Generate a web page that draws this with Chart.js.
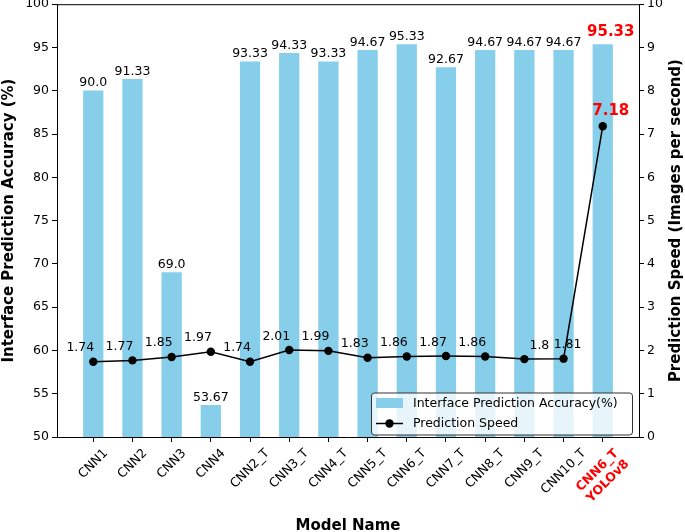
<!DOCTYPE html>
<html>
<head>
<meta charset="utf-8">
<script src="https://cdn.jsdelivr.net/npm/chart.js@4.4.0/dist/chart.umd.min.js"></script>
<style>
    html, body { margin: 0; padding: 0; background: #fff; }
    #wrap { width: 685px; height: 532px; }
</style>
</head>
<body>
<div id="wrap"><canvas id="chart" width="685" height="532"></canvas></div>
<script>
// ---- data ----
const models = ['CNN1', 'CNN2', 'CNN3', 'CNN4', 'CNN2_T', 'CNN3_T', 'CNN4_T', 'CNN5_T',
    'CNN6_T', 'CNN7_T', 'CNN8_T', 'CNN9_T', 'CNN10_T', ['CNN6_T', 'YOLOv8']];
const accuracy = [90.0, 91.33, 69.0, 53.67, 93.33, 94.33, 93.33, 94.67, 95.33, 92.67, 94.67, 94.67, 94.67, 95.33];
const speed = [1.74, 1.77, 1.85, 1.97, 1.74, 2.01, 1.99, 1.83, 1.86, 1.87, 1.86, 1.8, 1.81, 7.18];
const accTicks = [50, 55, 60, 65, 70, 75, 80, 85, 90, 95, 100];
const speedTicks = [0, 1, 2, 3, 4, 5, 6, 7, 8, 9, 10];

const FONT = '"DejaVu Sans", sans-serif';
const BAR_COLOR = '#87CEEB';
const HIGHLIGHT = 13; // the YOLOv8 entry

// python-style str(float)
const fmt = v => Number.isInteger(v) ? v.toFixed(1) : String(v);

function fixBox(size, key) {
    return s => {
        s[key] = size;
        s.paddingTop = s.paddingBottom = s.paddingLeft = s.paddingRight = 0;
    };
}

const axisGrid = { display: true, offset: false, drawOnChartArea: false, drawTicks: true, tickLength: 5, color: '#000', lineWidth: 1 };

// labels, titles, frame and legend drawn on top
const overlay = {
    id: 'overlay',
    afterDatasetsDraw(chart) {
        const c = chart.ctx;
        c.save();

        // value labels on bars
        const bars = chart.getDatasetMeta(1).data;
        bars.forEach((el, i) => {
            c.textAlign = 'center';
            c.textBaseline = 'alphabetic';
            if (i === HIGHLIGHT) {
                c.font = 'bold 15px ' + FONT;
                c.fillStyle = '#ff0000';
                c.fillText(fmt(accuracy[i]), el.x + 8, el.y - 9);
            } else {
                c.font = '12.5px ' + FONT;
                c.fillStyle = '#000';
                c.fillText(fmt(accuracy[i]), el.x, el.y - 4.5);
            }
        });

        // speed labels (last two nudged right like the original)
        const pts = chart.getDatasetMeta(0).data;
        pts.forEach((el, i) => {
            c.textBaseline = 'alphabetic';
            if (i === HIGHLIGHT) {
                c.font = 'bold 15px ' + FONT;
                c.fillStyle = '#ff0000';
                c.textAlign = 'center';
                c.fillText(fmt(speed[i]), el.x + 8, el.y - 11);
                return;
            }
            c.font = '12.5px ' + FONT;
            c.fillStyle = '#000';
            if (i === 11) {
                c.textAlign = 'center';
                c.fillText(fmt(speed[i]), el.x + 15, el.y - 10.5);
            } else if (i === 12) {
                c.textAlign = 'center';
                c.fillText(fmt(speed[i]), el.x + 4, el.y - 10.5);
            } else {
                c.textAlign = 'right';
                c.fillText(fmt(speed[i]), el.x + 1, el.y - 10.5);
            }
        });
        c.restore();
    },
    afterDraw(chart) {
        const c = chart.ctx;
        const area = chart.chartArea;
        const xs = chart.scales.x;
        c.save();

        // top spine
        c.strokeStyle = '#000';
        c.lineWidth = 1;
        c.beginPath();
        c.moveTo(area.left, area.top + 0.5);
        c.lineTo(area.right, area.top + 0.5);
        c.stroke();

        // rotated x tick labels, bbox centred under the tick
        models.forEach((m, i) => {
            const lines = Array.isArray(m) ? m : [m];
            const fs = 12.5;
            c.font = (i === HIGHLIGHT ? 'bold ' : '') + fs + 'px ' + FONT;
            c.fillStyle = i === HIGHLIGHT ? '#ff0000' : '#000';
            const w = Math.max(...lines.map(l => c.measureText(l).width));
            const h = fs * (1 + 1.2 * (lines.length - 1));
            const side = (w + h) / Math.SQRT2;
            const x = xs.getPixelForValue(i);
            const y = area.bottom + 10 + side / 2;
            c.save();
            c.translate(x, y);
            c.rotate(-Math.PI / 4);
            c.textAlign = 'center';
            c.textBaseline = 'middle';
            lines.forEach((l, j) => {
                c.fillText(l, 0, (j - (lines.length - 1) / 2) * fs * 1.2);
            });
            c.restore();
        });

        // axis titles
        c.fillStyle = '#000';
        c.font = 'bold 15px ' + FONT;
        c.textAlign = 'center';
        c.textBaseline = 'middle';
        c.fillText('Model Name', (area.left + area.right) / 2, 526);
        const midY = (area.top + area.bottom) / 2;
        c.save();
        c.translate(9, midY);
        c.rotate(-Math.PI / 2);
        c.fillText('Interface Prediction Accuracy (%)', 0, 0);
        c.restore();
        c.save();
        c.translate(676, midY);
        c.rotate(-Math.PI / 2);
        c.fillText('Prediction Speed (Images per second)', 0, 0);
        c.restore();

        // legend, lower right inside the plot
        const lw = 261, lh = 42;
        const lx = area.right - 7 - lw, ly = area.bottom - 2.5 - lh;
        c.beginPath();
        c.roundRect(lx + 0.5, ly + 0.5, lw, lh, 3);
        c.fillStyle = 'rgba(255,255,255,0.8)';
        c.fill();
        c.strokeStyle = '#333';
        c.lineWidth = 1;
        c.stroke();

        c.fillStyle = BAR_COLOR;
        c.fillRect(lx + 5, ly + 5.5, 27, 10);
        c.strokeStyle = '#000';
        c.lineWidth = 1.5;
        c.beginPath();
        c.moveTo(lx + 5, ly + 31);
        c.lineTo(lx + 32, ly + 31);
        c.stroke();
        c.fillStyle = '#000';
        c.beginPath();
        c.arc(lx + 18.5, ly + 31, 4.2, 0, Math.PI * 2);
        c.fill();

        c.font = '12.5px ' + FONT;
        c.textAlign = 'left';
        c.textBaseline = 'middle';
        c.fillText('Interface Prediction Accuracy(%)', lx + 42, ly + 11);
        c.fillText('Prediction Speed', lx + 42, ly + 31);
        c.restore();
    }
};

new Chart(document.getElementById('chart'), {
    data: {
        datasets: [{
            type: 'line',
            label: 'Prediction Speed',
            data: speed.map((v, i) => ({ x: i, y: v })),
            yAxisID: 'ySpeed',
            borderColor: '#000',
            backgroundColor: '#000',
            borderWidth: 1.5,
            pointRadius: 4.2,
            pointBackgroundColor: '#000',
            pointBorderWidth: 0,
            tension: 0,
            order: 0
        }, {
            type: 'bar',
            label: 'Interface Prediction Accuracy(%)',
            data: accuracy.map((v, i) => ({ x: i, y: v })),
            yAxisID: 'yAcc',
            backgroundColor: BAR_COLOR,
            barThickness: 19.6,
            order: 1
        }]
    },
    options: {
        responsive: false,
        animation: false,
        devicePixelRatio: 1,
        layout: { padding: { top: 4, left: 0, right: 0, bottom: 0 } },
        plugins: { legend: { display: false }, tooltip: { enabled: false } },
        scales: {
            x: {
                type: 'linear',
                offset: false,
                min: -0.925,
                max: 13.925,
                afterBuildTicks: s => { s.ticks = models.map((m, i) => ({ value: i })); },
                afterFit: fixBox(95, 'height'),
                ticks: { display: false },
                grid: axisGrid,
                border: { display: true, color: '#000', width: 1 }
            },
            yAcc: {
                type: 'linear',
                position: 'left',
                min: 50,
                max: 100,
                afterBuildTicks: s => { s.ticks = accTicks.map(v => ({ value: v })); },
                afterFit: fixBox(57, 'width'),
                ticks: { color: '#000', font: { family: FONT, size: 12.5 }, padding: 3 },
                grid: axisGrid,
                border: { display: true, color: '#000', width: 1 }
            },
            ySpeed: {
                type: 'linear',
                position: 'right',
                min: 0,
                max: 10,
                afterBuildTicks: s => { s.ticks = speedTicks.map(v => ({ value: v })); },
                afterFit: fixBox(46, 'width'),
                ticks: { color: '#000', font: { family: FONT, size: 12.5 }, padding: 3 },
                grid: axisGrid,
                border: { display: true, color: '#000', width: 1 }
            }
        }
    },
    plugins: [overlay]
});
</script>
</body>
</html>
